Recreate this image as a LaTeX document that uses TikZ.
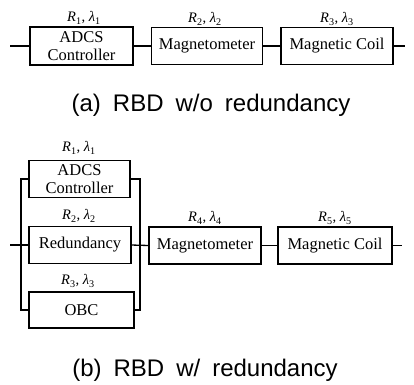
\documentclass[tikz,border=0pt]{standalone}
\usepackage{fontspec}
\setmainfont{Liberation Serif}
\newfontfamily\capfont{Liberation Sans}
\newcommand{\rl}[1]{\textit{R}\textsubscript{#1}, \textit{λ}\textsubscript{#1}}
\begin{document}
\begin{tikzpicture}[x=1pt,y=-1pt,
  blk/.style={draw, line width=1.3pt, rectangle, inner sep=0pt, outer sep=0pt,
    font=\fontsize{16.5}{18}\selectfont, align=center},
  lbl/.style={font=\fontsize{14.5}{16}\selectfont, inner sep=0pt},
  captxt/.style={font=\capfont\fontsize{24}{26}\selectfont, inner sep=0pt},
  wire/.style={line width=1.3pt}]
\useasboundingbox (0,0) rectangle (414,384);
% ---- (a) ----
\node[blk, minimum width=103pt, minimum height=38pt] (a1) at (81.5,46) {ADCS\\Controller};
\node[blk, minimum width=111pt, minimum height=37pt] (a2) at (207,46) {Magnetometer};
\node[blk, minimum width=112pt, minimum height=37pt] (a3) at (337,46) {Magnetic Coil};
\node[lbl] (la1) at (84,18) {\rl{1}};
\node[lbl] (la2) at (205,19) {\rl{2}};
\node[lbl] (la3) at (337,19) {\rl{3}};
\coordinate (ain) at (10,46);
\coordinate (aout) at (405,46);
\draw[wire] (ain) -- (a1.west);
\draw[wire] (a1.east) -- (a2.west);
\draw[wire] (a2.east) -- (a3.west);
\draw[wire] (a3.east) -- (aout);
\node[captxt] (capa) at (211,105) {(a)\hspace{0.5em}RBD\hspace{0.5em}w/o\hspace{0.5em}redundancy};
% ---- (b) ----
\node[blk, minimum width=101pt, minimum height=37pt] (b1) at (79.5,179) {ADCS\\Controller};
\node[blk, minimum width=102pt, minimum height=37pt] (b2) at (80,245) {Redundancy};
\node[blk, minimum width=105pt, minimum height=36pt] (b3) at (81.5,310) {OBC};
\node[blk, minimum width=112pt, minimum height=37pt] (b4) at (205,245.5) {Magnetometer};
\node[blk, minimum width=114pt, minimum height=37pt] (b5) at (335,245.5) {Magnetic Coil};
\node[lbl] (lb1) at (79,148) {\rl{1}};
\node[lbl] (lb2) at (79,216) {\rl{2}};
\node[lbl] (lb3) at (78,281) {\rl{3}};
\node[lbl] (lb4) at (205,218) {\rl{4}};
\node[lbl] (lb5) at (335,218) {\rl{5}};
\coordinate (bin) at (10,245);
\coordinate (jl) at (21,245);
\coordinate (jr) at (140,245);
\coordinate (bout) at (402,245.5);
\draw[wire] (b1.west) -| (jl) |- (b3.west);
\draw[wire] (b1.east) -| (jr) |- (b3.east);
\draw[wire] (bin) -- (b2.west);
\draw[wire] (b2.east) -- (b4.west);
\draw[wire] (b4.east) -- (b5.west);
\draw[wire] (b5.east) -- (bout);
\node[captxt] (capb) at (205,370) {(b)\hspace{0.5em}RBD\hspace{0.5em}w/\hspace{0.5em}redundancy};
\end{tikzpicture}
\end{document}
